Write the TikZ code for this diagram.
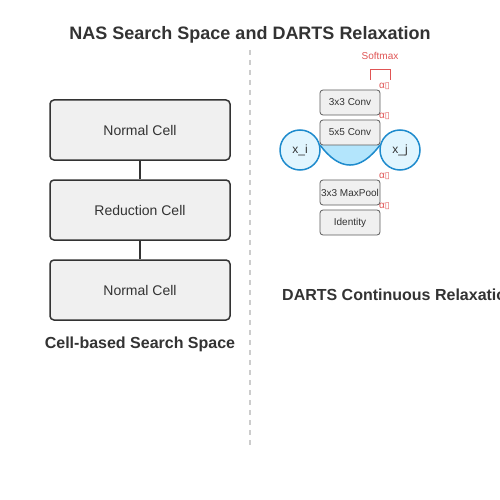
\documentclass[tikz,border=0pt]{standalone}
\usepackage{fontspec}
\setmainfont{Liberation Sans}
\newfontfamily\symfont{DejaVu Sans}
\definecolor{ink}{HTML}{333333}
\definecolor{boxfill}{HTML}{F0F0F0}
\definecolor{redc}{HTML}{E05555}
\definecolor{bluec}{HTML}{1E8BCD}
\definecolor{circfill}{HTML}{E1F5FE}
\definecolor{lensfill}{HTML}{B3E5FC}
\tikzset{
  cellbox/.style={draw=ink, line width=1.5pt, fill=boxfill, rounded corners=4pt, minimum width=180pt, minimum height=60pt, font=\fontsize{14}{16}\selectfont, text=ink, inner sep=0pt},
  opbox/.style={draw=ink!80, line width=0.8pt, fill=boxfill, rounded corners=3pt, minimum width=60pt, minimum height=25pt, font=\fontsize{10}{12}\selectfont, text=ink, inner sep=0pt},
  nodec/.style={circle, draw=bluec, line width=1.5pt, fill=circfill, minimum size=40pt, inner sep=0pt, font=\fontsize{12}{14}\selectfont, text=ink},
  alab/.style={font=\fontsize{10}{11}\selectfont, text=redc, inner sep=0pt, anchor=west},
  heading/.style={font=\bfseries\fontsize{16}{18}\selectfont, text=ink, inner sep=0pt},
}
\begin{document}
\begin{tikzpicture}[x=1pt,y=-1pt]
\useasboundingbox[clip] (0,0) rectangle (500,500);
\fill[white] (0,0) rectangle (500,500);
\node[font=\bfseries\fontsize{18}{20}\selectfont, text=ink] (title) at (250,34.5) {NAS Search Space and DARTS Relaxation};
% left
\node[cellbox] (n1) at (140,130) {Normal Cell};
\node[cellbox] (r1) at (140,210) {Reduction Cell};
\node[cellbox] (n2) at (140,290) {Normal Cell};
\draw[ink, line width=1.5pt] (n1.south) -- (r1.north);
\draw[ink, line width=1.5pt] (r1.south) -- (n2.north);
\node[heading] (lh) at (140,344.5) {Cell-based Search Space};
% divider
\coordinate (d1) at (250,50);
\coordinate (d2) at (250,445);
\draw[black!20, line width=2pt, dash pattern=on 5pt off 5pt] (d1) -- (d2);
% right
\node[font=\fontsize{10}{12}\selectfont, text=redc] (sm) at (380,56) {Softmax};
\coordinate (b1) at (370,80);
\coordinate (b2) at (390,80);
\draw[redc, line width=1pt] (b1) -- ++(0,-10) -| (b2);
\node[nodec] (xi) at (300,150) {x\_i};
\node[nodec] (xj) at (400,150) {x\_j};
\coordinate (l1) at (320,145);
\coordinate (l2) at (380,145);
\fill[lensfill] (l1) .. controls (340,171.7) and (360,171.7) .. (l2) -- cycle;
\draw[bluec, line width=1.5pt] (l1) .. controls (340,171.7) and (360,171.7) .. (l2);
\node[opbox] (o1) at (350,102.5) {3x3 Conv};
\node[opbox] (o2) at (350,132.5) {5x5 Conv};
\node[opbox] (o3) at (350,192.5) {3x3 MaxPool};
\node[opbox] (o4) at (350,222.5) {Identity};
\node[alab] (a1) at (379,86.5) {α{\symfont\fontsize{9}{10}\selectfont ▯}};
\node[alab] (a2) at (379,116.5) {α{\symfont\fontsize{9}{10}\selectfont ▯}};
\node[alab] (a3) at (379,176.5) {α{\symfont\fontsize{9}{10}\selectfont ▯}};
\node[alab] (a4) at (379,206.5) {α{\symfont\fontsize{9}{10}\selectfont ▯}};
\node[heading, anchor=west] (rh) at (282,294.5) {DARTS Continuous Relaxation};
\end{tikzpicture}
\end{document}
